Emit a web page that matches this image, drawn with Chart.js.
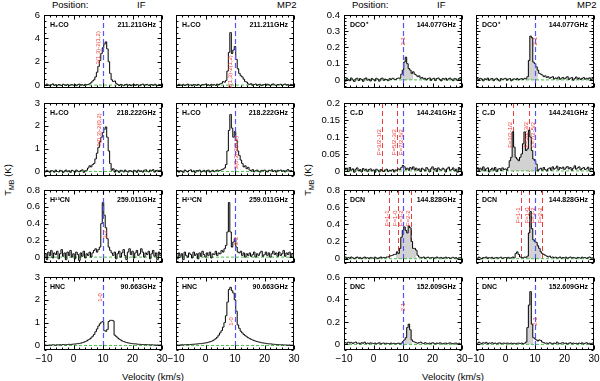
<!DOCTYPE html>
<html>
<head>
<meta charset="utf-8">
<script src="https://cdn.jsdelivr.net/npm/chart.js@4/dist/chart.umd.min.js"></script>
<style>
  body { margin:0; width:600px; height:381px; position:relative; background:#fff; overflow:hidden;
         font-family:"Liberation Sans", Arial, sans-serif; color:#000; }
  canvas { position:absolute; }
  .t { position:absolute; font-size:9.5px; white-space:nowrap; line-height:1; }
  .rot { transform:translate(-50%,-50%) rotate(-90deg); }
</style>
</head>
<body>
<div class="t" style="left:52px;top:0px">Position:</div>
<div class="t" style="left:137px;top:0px">IF</div>
<div class="t" style="left:277px;top:0px">MP2</div>
<div class="t" style="left:352px;top:0px">Position:</div>
<div class="t" style="left:437px;top:0px">IF</div>
<div class="t" style="left:577px;top:0px">MP2</div>
<div class="t rot" style="left:9px;top:180px">T<sub style="font-size:7px">MB</sub> (K)</div>
<div class="t rot" style="left:309px;top:180px">T<sub style="font-size:7px">MB</sub> (K)</div>
<div class="t" style="left:153px;top:377px;transform:translate(-50%,-50%)">Velocity (km/s)</div>
<div class="t" style="left:453px;top:377px;transform:translate(-50%,-50%)">Velocity (km/s)</div>
<script>
// velocity channels (km/s)
const VEL = [-10,-9.5,-9,-8.5,-8,-7.5,-7,-6.5,-6,-5.5,-5,-4.5,-4,-3.5,-3,-2.5,-2,-1.5,-1,-0.5,
  0,0.5,1,1.5,2,2.5,3,3.5,4,4.5,5,5.5,6,6.5,7,7.5,8,8.5,9,9.5,
  10,10.5,11,11.5,12,12.5,13,13.5,14,14.5,15,15.5,16,16.5,17,17.5,18,18.5,19,19.5,
  20,20.5,21,21.5,22,22.5,23,23.5,24,24.5,25,25.5,26,26.5,27,27.5,28,28.5,29,29.5,30];
const X_TICKS = [-10,0,10,20,30];
const VLSR = 10;

// y tick labels per row
const TICKS_L1 = [0,2,4,6];
const TICKS_L2 = [0,1,2,3];
const TICKS_L3 = [0,0.2,0.4,0.6,0.8];
const TICKS_L4 = [0,1,2,3];
const TICKS_R1 = [0,0.1,0.2,0.3,0.4];
const TICKS_R2 = [0,0.05,0.1,0.15,0.2];
const TICKS_R3 = [0,0.2,0.4,0.6,0.8];
const TICKS_R4 = [0,0.2,0.4,0.6];

// spectra, T_MB (K)
const H2CO211_IF = [0.05,-0.03,0.08,0.02,-0.05,0.04,0.1,-0.02,0.03,-0.06,0.05,0.0,-0.04,0.07,0.02,-0.03,0.06,-0.05,0.01,0.04,
  -0.02,0.05,-0.06,0.03,0.08,-0.01,0.04,-0.04,0.06,0.02,
  0.05,0.12,0.2,0.35,0.45,0.7,1.1,1.6,2.1,2.7,
  3.2,3.5,3.7,3.1,2.0,1.0,0.45,0.3,0.35,0.15,
  0.05,-0.04,0.06,0.02,-0.05,0.03,0.07,-0.02,0.04,-0.06,
  0.02,0.06,-0.03,0.05,0.0,-0.05,0.04,0.08,-0.02,0.03,
  0.06,-0.04,0.02,0.05,-0.03,0.07,0.01,-0.05,0.04,0.02,0.0];
const H2CO211_MP2 = [0.04,-0.05,0.07,0.01,-0.02,0.06,-0.04,0.03,0.08,-0.01,0.02,-0.06,0.05,0.03,-0.03,0.06,0.0,-0.04,0.05,0.02,
  0.07,-0.02,0.03,-0.05,0.06,0.01,0.04,-0.03,0.08,0.02,
  0.1,0.15,0.3,0.25,0.4,1.2,2.8,4.5,2.7,3.0,
  3.3,2.2,1.4,1.0,0.8,0.7,0.5,0.3,0.25,0.1,
  0.06,0.12,-0.02,0.05,0.09,-0.03,0.04,0.07,-0.05,0.02,
  0.05,-0.02,0.08,0.03,-0.04,0.06,0.1,0.01,-0.03,0.05,
  0.02,0.07,-0.04,0.05,0.09,0.0,0.04,-0.03,0.06,0.02,-0.02];
const H2CO218_IF = [0.03,-0.02,0.05,0.01,-0.04,0.04,0.02,-0.03,0.06,0.0,-0.02,0.05,0.03,-0.05,0.02,0.06,-0.01,0.03,-0.04,0.05,
  0.02,-0.03,0.06,0.01,-0.02,0.04,0.07,-0.04,0.03,0.05,
  0.15,0.25,0.2,0.3,0.35,0.55,0.8,1.05,1.3,1.5,
  1.7,1.85,1.95,1.5,0.9,0.35,0.05,0.12,-0.03,0.06,
  0.02,-0.04,0.05,0.03,-0.02,0.06,0.01,-0.03,0.04,0.02,
  -0.02,0.05,0.03,-0.04,0.06,0.0,0.03,-0.03,0.05,0.07,
  0.01,-0.02,0.06,0.03,0.08,-0.03,0.04,0.05,0.0,0.06,0.02];
const H2CO218_MP2 = [0.02,0.05,-0.03,0.04,0.01,-0.04,0.06,0.02,-0.02,0.04,0.07,-0.01,0.03,-0.05,0.04,0.02,0.06,-0.03,0.01,0.05,
  -0.02,0.04,0.06,-0.03,0.02,0.05,-0.01,0.03,0.06,0.02,
  0.04,0.08,0.1,0.15,0.3,0.9,1.8,2.5,1.9,1.5,
  1.75,1.35,0.9,0.7,0.5,0.35,0.2,0.25,0.12,0.18,
  0.06,0.02,0.08,-0.02,0.04,0.06,0.01,-0.03,0.05,0.03,
  0.06,0.02,-0.02,0.05,0.03,0.07,0.0,0.04,-0.03,0.05,
  0.03,0.06,0.01,0.04,-0.02,0.05,0.08,0.02,0.04,0.0,0.03];
const H13CN_IF = [0.0,0.04,-0.03,0.06,0.02,0.08,-0.01,0.05,0.03,0.07,-0.02,0.04,0.09,0.01,0.05,-0.03,0.06,0.02,0.08,0.0,
  0.04,-0.02,0.06,0.03,-0.04,0.05,0.01,0.07,-0.01,0.04,
  0.02,0.06,0.0,0.05,0.08,0.1,0.06,0.09,0.12,0.4,
  0.65,0.5,0.35,0.22,0.12,0.08,0.05,0.02,0.06,-0.02,
  0.04,0.07,0.0,0.05,0.09,0.02,-0.03,0.06,0.1,0.03,
  0.07,-0.01,0.05,0.08,0.02,0.04,0.1,0.06,0.0,0.05,
  0.03,0.07,-0.02,0.04,0.08,0.01,0.05,-0.03,0.06,0.02,0.04];
const H13CN_MP2 = [0.02,-0.02,0.05,0.01,0.04,-0.03,0.06,0.02,0.0,0.05,0.03,-0.01,0.06,0.02,0.04,-0.02,0.05,0.01,0.07,0.03,
  0.0,0.05,0.02,0.06,-0.01,0.04,0.03,0.07,0.02,0.05,
  0.04,0.08,0.06,0.1,0.14,0.3,0.65,0.3,0.12,0.18,
  0.22,0.12,0.06,0.05,0.07,0.02,0.05,0.0,0.04,0.02,
  0.05,0.01,0.03,0.06,0.0,0.04,0.02,0.05,0.07,0.01,
  0.03,0.06,0.02,0.05,0.0,0.04,0.07,0.03,0.05,0.01,
  0.06,0.02,0.04,0.08,0.01,0.05,0.03,0.06,0.0,0.04,0.05];
const HNC_IF = [0.01,0.02,0.0,0.01,0.02,0.01,0.03,0.02,0.01,0.03,0.02,0.03,0.02,0.04,0.03,0.03,0.04,0.05,0.04,0.05,
  0.06,0.06,0.07,0.08,0.09,0.1,0.12,0.14,0.17,0.2,
  0.24,0.28,0.33,0.4,0.48,0.6,0.72,0.85,0.95,1.02,
  1.05,0.65,0.62,0.7,1.05,1.1,1.1,1.08,0.45,0.4,
  0.33,0.28,0.24,0.2,0.17,0.15,0.13,0.11,0.1,0.09,
  0.08,0.07,0.07,0.06,0.05,0.05,0.04,0.04,0.03,0.04,
  0.03,0.03,0.02,0.03,0.02,0.02,0.01,0.02,0.01,0.02,0.01];
const HNC_MP2 = [0.01,0.02,0.01,0.02,0.03,0.02,0.03,0.03,0.04,0.03,0.04,0.05,0.05,0.06,0.06,0.07,0.08,0.08,0.09,0.1,
  0.11,0.12,0.14,0.16,0.18,0.21,0.25,0.3,0.36,0.45,
  0.55,0.65,0.8,1.0,1.3,1.9,2.45,2.55,2.4,2.3,
  2.0,1.5,0.9,0.75,0.62,0.55,0.48,0.43,0.38,0.34,
  0.3,0.27,0.24,0.21,0.19,0.17,0.15,0.14,0.12,0.11,
  0.1,0.09,0.08,0.07,0.07,0.06,0.05,0.05,0.04,0.04,
  0.03,0.03,0.03,0.02,0.02,0.02,0.01,0.02,0.01,0.01,0.01];
const DCOP_IF = [0.005,-0.008,0.01,0.002,-0.005,0.012,0.0,-0.01,0.006,0.01,-0.004,0.008,0.003,-0.009,0.007,0.012,-0.002,0.004,-0.007,0.009,
  0.002,-0.006,0.01,0.004,-0.008,0.006,0.011,-0.003,0.005,0.002,
  -0.005,0.008,0.003,0.01,0.005,0.002,0.008,0.012,0.01,0.035,
  0.06,0.11,0.14,0.1,0.07,0.06,0.04,0.05,0.035,0.03,
  0.02,0.025,0.01,0.015,0.005,0.01,0.0,0.008,0.012,-0.003,
  0.006,0.01,-0.004,0.008,0.012,0.002,-0.006,0.009,0.004,0.01,
  -0.002,0.007,0.011,0.003,-0.005,0.009,0.006,-0.003,0.008,0.004,0.0];
const DCOP_MP2 = [0.003,0.008,-0.004,0.01,0.005,-0.006,0.007,0.002,0.011,-0.003,0.006,0.009,-0.005,0.004,0.01,0.001,-0.007,0.008,0.003,0.006,
  0.01,-0.002,0.005,0.008,-0.006,0.004,0.007,0.002,0.009,0.0,
  0.005,0.008,0.003,0.01,0.006,0.02,0.12,0.27,0.26,0.11,
  0.1,0.08,0.06,0.04,0.035,0.03,0.02,0.025,0.015,0.02,
  0.01,0.015,0.02,0.005,0.012,0.008,0.018,0.004,0.01,0.015,
  0.006,0.012,0.02,0.003,0.01,0.015,-0.002,0.008,0.018,0.005,
  0.012,0.002,0.009,0.015,0.004,0.01,0.006,0.013,0.001,0.008,0.005];
const C2D_IF = [0.012,0.004,0.008,-0.002,0.01,0.002,0.006,-0.004,0.005,0.009,0.0,0.004,-0.003,0.007,0.002,0.005,-0.002,0.004,0.006,0.0,
  0.003,-0.004,0.005,0.002,-0.003,0.004,0.001,-0.002,0.003,0.005,
  -0.002,0.002,0.0,0.004,-0.003,0.003,0.002,0.006,0.004,0.01,
  0.016,0.012,0.004,0.008,0.002,0.01,0.005,0.012,0.003,0.008,
  0.002,0.006,-0.002,0.008,0.004,0.0,0.01,0.005,-0.003,0.006,
  0.012,0.003,0.007,-0.002,0.009,0.004,0.002,0.008,0.005,-0.003,
  0.006,0.011,0.002,0.004,0.009,0.0,0.005,-0.004,0.01,0.003,0.006];
const C2D_MP2 = [0.005,0.01,-0.002,0.008,0.003,0.012,0.0,0.006,0.009,-0.003,0.004,0.008,0.002,0.01,-0.002,0.005,0.007,0.001,0.009,0.004,
  0.006,0.002,0.01,0.03,0.04,0.115,0.07,0.04,0.035,0.03,
  0.04,0.05,0.08,0.115,0.06,0.065,0.12,0.1,0.06,0.035,
  0.03,0.02,0.0,0.005,0.008,0.002,0.01,0.004,0.0,0.006,
  0.009,0.002,0.012,0.005,0.008,0.014,0.003,0.01,0.007,0.011,
  0.004,0.009,0.013,0.006,0.01,0.002,0.008,0.015,0.005,0.009,
  0.012,0.003,0.007,0.01,0.004,0.006,0.011,0.002,0.008,0.005,0.003];
const DCN_IF = [0.01,0.02,0.0,0.015,0.005,0.02,0.01,0.0,0.012,0.02,0.005,0.015,0.0,0.01,0.02,0.008,0.012,0.0,0.015,0.01,
  0.005,0.018,0.01,0.0,0.012,0.02,0.008,0.015,0.01,0.02,
  0.02,0.03,0.035,0.04,0.05,0.05,0.08,0.06,0.12,0.25,
  0.33,0.37,0.33,0.3,0.38,0.36,0.2,0.12,0.12,0.1,
  0.04,0.02,0.015,0.01,0.02,0.005,0.012,0.018,0.008,0.01,
  0.015,0.005,0.012,0.02,0.008,0.01,0.015,0.003,0.012,0.018,
  0.008,0.014,0.004,0.01,0.016,0.006,0.012,0.002,0.01,0.015,0.008];
const DCN_MP2 = [0.012,0.005,0.018,0.008,0.0,0.014,0.01,0.02,0.004,0.012,0.008,0.016,0.002,0.01,0.015,0.006,0.012,0.018,0.004,0.01,
  0.014,0.008,0.016,0.005,0.012,0.02,0.01,0.06,0.08,0.05,
  0.02,0.015,0.01,0.02,0.015,0.03,0.3,0.55,0.35,0.22,
  0.2,0.19,0.15,0.12,0.08,0.06,0.05,0.04,0.03,0.02,
  0.03,0.015,0.02,0.01,0.018,0.008,0.012,0.02,0.005,0.014,
  0.01,0.018,0.006,0.012,0.02,0.008,0.015,0.01,0.004,0.016,
  0.012,0.006,0.018,0.01,0.014,0.004,0.012,0.02,0.008,0.01,0.015];
const DNC_IF = [0.02,0.015,0.01,0.02,0.012,0.018,0.008,0.015,0.02,0.01,0.012,0.005,0.015,0.01,0.02,0.008,0.012,0.006,0.014,0.01,
  0.008,0.012,0.005,0.01,0.015,0.004,0.01,0.012,0.006,0.01,
  0.008,0.004,0.012,0.006,0.01,0.005,0.008,0.012,0.004,0.01,
  0.025,0.04,0.06,0.15,0.18,0.13,0.04,0.025,0.02,0.015,
  0.01,0.015,0.02,0.012,0.008,0.015,0.01,0.005,0.012,0.008,
  0.015,0.01,0.005,0.012,0.008,0.014,0.01,0.004,0.01,0.012,
  0.006,0.01,0.014,0.008,0.004,0.01,0.012,0.006,0.01,0.003,0.008];
const DNC_MP2 = [0.015,0.01,0.02,0.012,0.008,0.015,0.01,0.018,0.005,0.012,0.01,0.015,0.008,0.012,0.005,0.01,0.014,0.006,0.01,0.012,
  0.008,0.012,0.01,0.005,0.012,0.008,0.01,0.004,0.01,0.012,
  0.008,0.012,0.005,0.01,0.02,0.15,0.35,0.47,0.18,0.06,
  0.05,0.04,0.03,0.04,0.035,0.02,0.015,0.01,0.012,0.008,
  0.015,0.01,0.005,0.012,0.008,0.02,0.01,0.006,0.012,0.015,
  0.008,0.012,0.004,0.01,0.015,0.006,0.012,0.008,0.01,0.005,
  0.012,0.008,0.014,0.004,0.01,0.015,0.006,0.01,0.005,0.012,0.008];

// transition velocities (km/s) and their labels
const LINE_H2CO211_IF = [9.0],  LABEL_H2CO211 = ['3(1,3)-2(1,2)'];
const LINE_H2CO211_MP2 = [9.0];
const LINE_H2CO218_IF = [9.3],  LABEL_H2CO218 = ['3(0,3)-2(0,2)'];
const LINE_H2CO218_MP2 = [11.2];
const LINE_H13CN_IF = [11.6],   LABEL_H13CN = ['3-2'];
const LINE_H13CN_MP2 = [11.0];
const LINE_HNC_IF = [9.8],      LABEL_HNC = ['1-0'];
const LINE_HNC_MP2 = [9.4];
const LINE_DCOP_IF = [10.8],    LABEL_DCOP = ['2-1'];
const LINE_DCOP_MP2 = [10.8];
const LINE_C2D_IF = [2.8, 7.9, 10], LABEL_C2D = ['F=3/2-1/2','F=5/2-3/2','F=7/2-5/2'];
const LINE_C2D_MP2 = [2.4, 7.9, 10];
const LINE_DCN_IF = [5.3, 8.2, 10, 12.6], LABEL_DCN = ['F=1-1','F=1-0','F=3-2','F=2-2'];
const LINE_DCN_MP2 = [5.1, 8.1, 10, 12.5];
const LINE_DNC_IF = [10.7],     LABEL_DNC = ['2-1'];
const LINE_DNC_MP2 = [10.9];

// shaded velocity windows (km/s)
const FILL_DCOP_IF = [9.5, 13.5];
const FILL_DCOP_MP2 = [7.5, 11];
const FILL_C2D_MP2 = [1.5, 10.5];
const FILL_DCN_IF = [7.5, 14.5];
const FILL_DCN_MP2 = [7, 12];
const FILL_DNC_IF = [10.5, 13];
const FILL_DNC_MP2 = [7, 9.5];

const XMIN = -10, XMAX = 30;
const COL_X = [44, 176, 344, 476];
const ROW_Y = [15, 103, 190, 277];
const PW = 118, PH = 73;
const FONT = '"Liberation Sans", Arial, sans-serif';
const RED = '#ee3b3b', BLUE = '#5555ff';

const panels = [
  {col:0,row:0,mol:'H₂CO',freq:'211.211GHz',s:H2CO211_IF,lines:LINE_H2CO211_IF,labels:LABEL_H2CO211,lab:0.22,ymin:-0.25,ymax:6,ticks:TICKS_L1,minor:0.5},
  {col:1,row:0,mol:'H₂CO',freq:'211.211GHz',s:H2CO211_MP2,lines:LINE_H2CO211_MP2,labels:LABEL_H2CO211,lab:0.55,ymin:-0.25,ymax:6,ticks:TICKS_L1,minor:0.5},
  {col:0,row:1,mol:'H₂CO',freq:'218.222GHz',s:H2CO218_IF,lines:LINE_H2CO218_IF,labels:LABEL_H2CO218,lab:0.14,ymin:-0.2,ymax:3,ticks:TICKS_L2,minor:0.2},
  {col:1,row:1,mol:'H₂CO',freq:'218.222GHz',s:H2CO218_MP2,lines:LINE_H2CO218_MP2,labels:LABEL_H2CO218,lab:0.45,ymin:-0.2,ymax:3,ticks:TICKS_L2,minor:0.2},
  {col:0,row:2,mol:'H¹³CN',freq:'259.011GHz',s:H13CN_IF,lines:LINE_H13CN_IF,labels:LABEL_H13CN,lab:0.55,ymin:-0.07,ymax:0.8,ticks:TICKS_L3,minor:0.05},
  {col:1,row:2,mol:'H¹³CN',freq:'259.011GHz',s:H13CN_MP2,lines:LINE_H13CN_MP2,labels:LABEL_H13CN,lab:0.64,ymin:-0.07,ymax:0.8,ticks:TICKS_L3,minor:0.05},
  {col:0,row:3,mol:'HNC',freq:'90.663GHz',s:HNC_IF,lines:LINE_HNC_IF,labels:LABEL_HNC,lab:0.22,ymin:-0.2,ymax:3,ticks:TICKS_L4,minor:0.2},
  {col:1,row:3,mol:'HNC',freq:'90.663GHz',s:HNC_MP2,lines:LINE_HNC_MP2,labels:LABEL_HNC,lab:0.55,ymin:-0.2,ymax:3,ticks:TICKS_L4,minor:0.2},
  {col:2,row:0,mol:'DCO⁺',freq:'144.077GHz',s:DCOP_IF,lines:LINE_DCOP_IF,labels:LABEL_DCOP,lab:0.3,ymin:-0.05,ymax:0.4,ticks:TICKS_R1,minor:0.02,fill:FILL_DCOP_IF},
  {col:3,row:0,mol:'DCO⁺',freq:'144.077GHz',s:DCOP_MP2,lines:LINE_DCOP_MP2,labels:LABEL_DCOP,lab:0.3,ymin:-0.05,ymax:0.4,ticks:TICKS_R1,minor:0.02,fill:FILL_DCOP_MP2},
  {col:2,row:1,mol:'C₂D',freq:'144.241GHz',s:C2D_IF,lines:LINE_C2D_IF,labels:LABEL_C2D,lab:0.36,ymin:-0.015,ymax:0.2,ticks:TICKS_R2,minor:0.01,showRed:true},
  {col:3,row:1,mol:'C₂D',freq:'144.241GHz',s:C2D_MP2,lines:LINE_C2D_MP2,labels:LABEL_C2D,lab:0.26,ymin:-0.015,ymax:0.2,ticks:TICKS_R2,minor:0.01,showRed:true,fill:FILL_C2D_MP2},
  {col:2,row:2,mol:'DCN',freq:'144.828GHz',s:DCN_IF,lines:LINE_DCN_IF,labels:LABEL_DCN,lab:0.28,ymin:-0.05,ymax:0.8,ticks:TICKS_R3,minor:0.05,showRed:true,fill:FILL_DCN_IF},
  {col:3,row:2,mol:'DCN',freq:'144.828GHz',s:DCN_MP2,lines:LINE_DCN_MP2,labels:LABEL_DCN,lab:0.24,ymin:-0.05,ymax:0.8,ticks:TICKS_R3,minor:0.05,showRed:true,fill:FILL_DCN_MP2},
  {col:2,row:3,mol:'DNC',freq:'152.609GHz',s:DNC_IF,lines:LINE_DNC_IF,labels:LABEL_DNC,lab:0.35,ymin:-0.05,ymax:0.6,ticks:TICKS_R4,minor:0.05,fill:FILL_DNC_IF},
  {col:3,row:3,mol:'DNC',freq:'152.609GHz',s:DNC_MP2,lines:LINE_DNC_MP2,labels:LABEL_DNC,lab:0.55,ymin:-0.05,ymax:0.6,ticks:TICKS_R4,minor:0.05,fill:FILL_DNC_MP2},
];

function framePlugin(p) {
  const seg = (ctx, x1, y1, x2, y2) => { ctx.beginPath(); ctx.moveTo(x1, y1); ctx.lineTo(x2, y2); ctx.stroke(); };
  return {
    id: 'frame',
    beforeDatasetsDraw(chart) {
      const { ctx, chartArea: a, scales: { x } } = chart;
      if (!p.showRed) return;
      ctx.save();
      ctx.lineWidth = 1;
      ctx.setLineDash([5, 3]);
      ctx.strokeStyle = RED;
      p.lines.forEach(v => { const px = Math.round(x.getPixelForValue(v)) + 0.5; seg(ctx, px, a.top, px, a.bottom); });
      ctx.restore();
    },
    afterDatasetsDraw(chart) {
      const { ctx, chartArea: a, scales: { x, y } } = chart;
      ctx.save();
      // systemic velocity marker
      ctx.lineWidth = 1.2;
      ctx.setLineDash([5, 3]);
      ctx.strokeStyle = BLUE;
      const bx = Math.round(x.getPixelForValue(VLSR)) + 0.5;
      seg(ctx, bx, a.top, bx, a.bottom);
      ctx.setLineDash([]);

      ctx.strokeStyle = '#000';
      ctx.lineWidth = 1;
      const L = Math.round(a.left) + 0.5, R = Math.round(a.right) - 0.5;
      const T = Math.round(a.top) + 0.5, B = Math.round(a.bottom) - 0.5;
      ctx.strokeRect(L, T, R - L, B - T);
      // x ticks, inward on bottom and top
      for (let v = XMIN; v <= XMAX; v += 2) {
        const px = Math.round(x.getPixelForValue(v)) + 0.5;
        const len = X_TICKS.includes(v) ? 4 : 2;
        seg(ctx, px, B, px, B - len); seg(ctx, px, T, px, T + len);
      }
      // y ticks, inward on left and right
      const k0 = Math.ceil(p.ymin / p.minor - 1e-6), k1 = Math.floor(p.ymax / p.minor + 1e-6);
      for (let k = k0; k <= k1; k++) {
        const v = k * p.minor;
        const py = Math.round(y.getPixelForValue(v)) + 0.5;
        const len = p.ticks.some(t => Math.abs(t - v) < 1e-6) ? 4 : 2;
        seg(ctx, L, py, L + len, py); seg(ctx, R, py, R - len, py);
      }
      ctx.fillStyle = '#000';
      ctx.font = '9.5px ' + FONT;
      if (p.col === 0 || p.col === 2) {
        ctx.textAlign = 'right'; ctx.textBaseline = 'middle';
        p.ticks.forEach(t => ctx.fillText(String(t), a.left - 4, y.getPixelForValue(t)));
      }
      if (p.row === 3) {
        ctx.font = '10px ' + FONT;
        ctx.textAlign = 'center'; ctx.textBaseline = 'top';
        X_TICKS.forEach(t => ctx.fillText(t < 0 ? '\u2212' + Math.abs(t) : String(t), x.getPixelForValue(t), a.bottom + 4));
      }
      // molecule and frequency
      ctx.font = 'bold 7px ' + FONT;
      ctx.textBaseline = 'middle';
      ctx.textAlign = 'left';
      ctx.fillText(p.mol, a.left + 6, a.top + 10);
      ctx.textAlign = 'right';
      ctx.fillText(p.freq, a.right - 6, a.top + 10);
      // transition labels
      ctx.fillStyle = RED;
      ctx.font = '6px ' + FONT;
      p.lines.forEach((v, i) => {
        ctx.save();
        ctx.translate(x.getPixelForValue(v) + 1, a.top + p.lab * (a.bottom - a.top));
        ctx.rotate(-Math.PI / 2);
        ctx.textAlign = 'right'; ctx.textBaseline = 'bottom';
        ctx.fillText(p.labels[i], 0, 0);
        ctx.restore();
      });
      ctx.restore();
    }
  };
}

const ML = 44, MR = 10, MT = 4, MB = 28;
panels.forEach(p => {
  const c = document.createElement('canvas');
  c.width = PW + ML + MR; c.height = PH + MT + MB;
  c.style.left = (COL_X[p.col] - ML) + 'px';
  c.style.top = (ROW_Y[p.row] - MT) + 'px';
  document.body.appendChild(c);
  const pts = VEL.map((v, i) => ({ x: v, y: p.s[i] }));
  const datasets = [
    { data: pts, borderColor: '#000', borderWidth: 1, stepped: 'middle', pointRadius: 0, order: 0 },
    { data: [{ x: XMIN, y: 0 }, { x: XMAX, y: 0 }], borderColor: '#4cc24c', borderWidth: 1,
      borderDash: [3, 2], pointRadius: 0, order: 1 }
  ];
  if (p.fill) {
    datasets.push({ data: pts.filter(d => d.x >= p.fill[0] && d.x <= p.fill[1]), borderWidth: 0,
      borderColor: 'rgba(0,0,0,0)', backgroundColor: '#d2d2d2', fill: 'origin', stepped: 'middle',
      pointRadius: 0, order: 2 });
  }
  new Chart(c, {
    type: 'line',
    data: { datasets },
    options: {
      responsive: false, animation: false, devicePixelRatio: 1, events: [],
      layout: { padding: { left: ML, right: MR, top: MT, bottom: MB } },
      scales: {
        x: { type: 'linear', min: XMIN, max: XMAX, display: false },
        y: { type: 'linear', min: p.ymin, max: p.ymax, display: false }
      },
      plugins: { legend: { display: false }, tooltip: { enabled: false } }
    },
    plugins: [framePlugin(p)]
  });
});
</script>
</body>
</html>
